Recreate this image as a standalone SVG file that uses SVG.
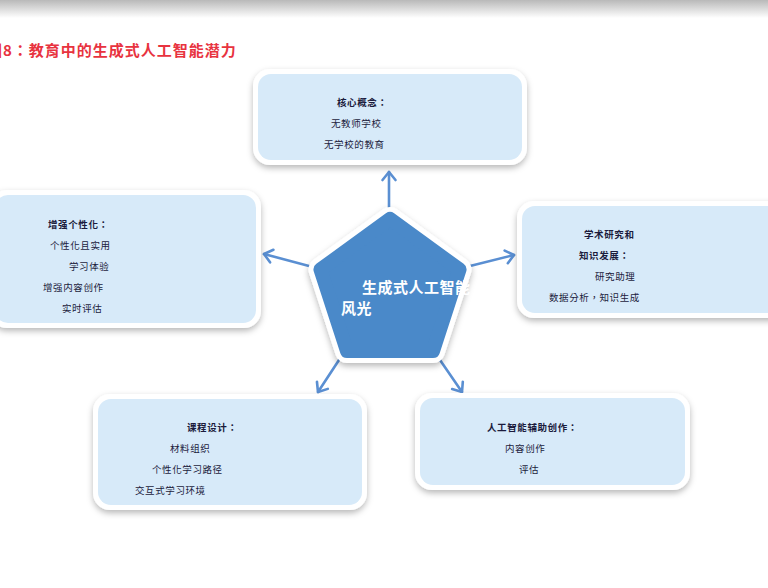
<svg xmlns="http://www.w3.org/2000/svg" width="768" height="588" viewBox="0 0 768 588">
<style>
  .t{font-family:"Noto Sans CJK TC","Liberation Sans",sans-serif;font-size:9.5px;fill:#1b1b3c;letter-spacing:0.6px}
  .b{font-weight:bold}
  .outer{fill:#ffffff;filter:url(#sh)}
  .inner{fill:#d7eaf9}
  .arr{stroke:#5a8fd2;stroke-width:2.6;fill:none;marker-end:url(#ah);stroke-linecap:round}
  .ct{font-family:"Noto Sans CJK SC","Liberation Sans",sans-serif;font-size:15px;font-weight:bold;fill:#ffffff;letter-spacing:0.5px}
</style>
<defs>
  <linearGradient id="topg" x1="0" y1="0" x2="0" y2="1">
    <stop offset="0" stop-color="#b9b9b9"/>
    <stop offset="1" stop-color="#ffffff"/>
  </linearGradient>
  <filter id="sh" x="-20%" y="-20%" width="140%" height="150%">
    <feDropShadow dx="0" dy="3" stdDeviation="3" flood-color="#000" flood-opacity="0.28"/>
  </filter>
  <marker id="ah" viewBox="-12 -9 14 18" markerWidth="14" markerHeight="18" refX="0" refY="0" orient="auto" markerUnits="userSpaceOnUse">
    <path d="M-8,-6.5 L0,0 L-8,6.5" fill="none" stroke="#5a8fd2" stroke-width="2.6" stroke-linecap="round" stroke-linejoin="round"/>
  </marker>
  <clipPath id="cclip"><rect x="300" y="200" width="174" height="170"/></clipPath>
</defs>
<rect x="0" y="0" width="768" height="588" fill="#ffffff"/>
<rect x="0" y="0" width="768" height="18" fill="url(#topg)"/>
<text x="-13" y="56" font-family="Noto Sans CJK TC,Liberation Sans,sans-serif" font-size="15" font-weight="bold" fill="#e8333f" letter-spacing="1">图8：教育中的生成式人工智能潜力</text>

<g id="connectors">
  <line class="arr" x1="389" y1="209" x2="389" y2="172"/>
  <line class="arr" x1="309" y1="266" x2="264" y2="254"/>
  <line class="arr" x1="470" y1="266" x2="514" y2="255"/>
  <line class="arr" x1="339" y1="360" x2="318" y2="392"/>
  <line class="arr" x1="440" y1="360" x2="462" y2="392"/>
</g>

<g id="center">
  <polygon points="390,219 459.5,269.5 433,351 347,351 320.5,269.5" fill="#ffffff" stroke="#ffffff" stroke-width="24" stroke-linejoin="round" filter="url(#sh)"/>
  <polygon points="390,219 459.5,269.5 433,351 347,351 320.5,269.5" fill="#4a89c9" stroke="#4a89c9" stroke-width="14" stroke-linejoin="round"/>
  <g clip-path="url(#cclip)">
    <text class="ct" x="362" y="293">生成式人工智能</text>
    <text class="ct" x="341" y="314">风光</text>
  </g>
</g>

<g id="core">
  <rect class="outer" x="253" y="69" width="274" height="96" rx="17"/>
  <rect class="inner" x="258" y="74" width="264" height="86" rx="13"/>
  <text class="t b" x="337" y="106">核心概念：</text>
  <text class="t" x="331" y="127">无教师学校</text>
  <text class="t" x="324" y="148">无学校的教育</text>
</g>

<g id="personal">
  <rect class="outer" x="-10" y="190" width="271" height="138" rx="17"/>
  <rect class="inner" x="-5" y="195" width="261" height="128" rx="13"/>
  <text class="t b" x="48" y="228">增强个性化：</text>
  <text class="t" x="50" y="249">个性化且实用</text>
  <text class="t" x="69" y="270">学习体验</text>
  <text class="t" x="43" y="291">增强内容创作</text>
  <text class="t" x="62" y="312">实时评估</text>
</g>

<g id="research">
  <rect class="outer" x="517" y="201" width="270" height="117" rx="17"/>
  <rect class="inner" x="522" y="206" width="260" height="107" rx="13"/>
  <text class="t b" x="584" y="238">学术研究和</text>
  <text class="t b" x="579" y="259">知识发展：</text>
  <text class="t" x="595" y="280">研究助理</text>
  <text class="t" x="549" y="301">数据分析，知识生成</text>
</g>

<g id="curriculum">
  <rect class="outer" x="93" y="394" width="274" height="116" rx="17"/>
  <rect class="inner" x="98" y="399" width="264" height="106" rx="13"/>
  <text class="t b" x="187" y="431">课程设计：</text>
  <text class="t" x="170" y="452">材料组织</text>
  <text class="t" x="152" y="473">个性化学习路径</text>
  <text class="t" x="135" y="494">交互式学习环境</text>
</g>

<g id="creation">
  <rect class="outer" x="415" y="393" width="275" height="97" rx="17"/>
  <rect class="inner" x="420" y="398" width="265" height="87" rx="13"/>
  <text class="t b" x="487" y="431">人工智能辅助创作：</text>
  <text class="t" x="505" y="452">内容创作</text>
  <text class="t" x="519" y="473">评估</text>
</g>
</svg>
